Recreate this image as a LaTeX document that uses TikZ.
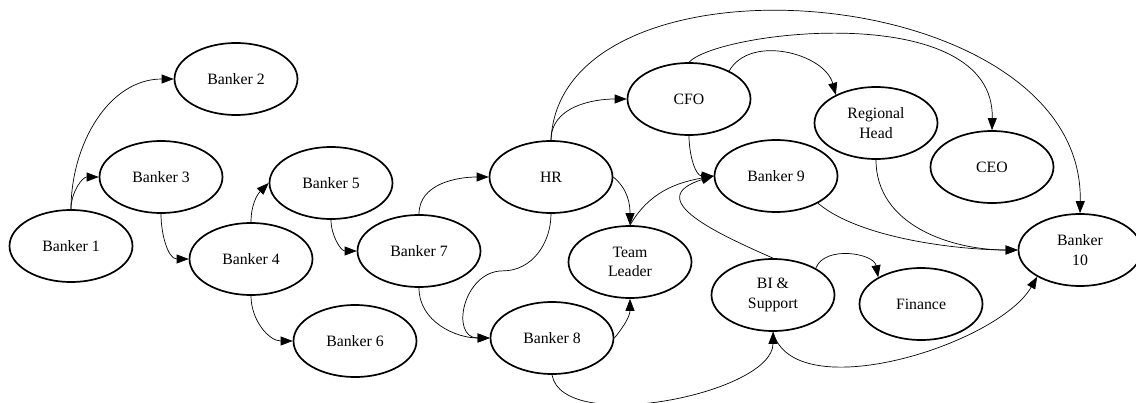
\documentclass[tikz,border=0pt]{standalone}
\usepackage{fontspec}
\setmainfont{Liberation Serif}
\usepackage{tikz}
\usetikzlibrary{
  arrows.meta,
  shapes.geometric
}

\begin{document}
\begin{tikzpicture}[x=1pt, y=1pt,
    font=\fontsize{15.8}{19.3}\selectfont,
    role/.style={ellipse, draw, line width=1.7pt, minimum width=123pt,
      minimum height=72pt, inner sep=0pt, align=center},
    link/.style={line width=0.7pt, -{Triangle[length=12pt, width=9pt]}}]
  \useasboundingbox (0,0) rectangle (1136,-402);

  % Bankers
  \node[role] (b1) at (71,-246) {Banker 1};
  \node[role] (b2) at (236,-79) {Banker 2};
  \node[role] (b3) at (161,-177) {Banker 3};
  \node[role] (b4) at (251,-259) {Banker 4};
  \node[role] (b5) at (331,-183) {Banker 5};
  \node[role] (b6) at (355,-341) {Banker 6};
  \node[role] (b7) at (419,-251) {Banker 7};
  \node[role] (b8) at (552,-338) {Banker 8};
  \node[role] (b9) at (776,-176) {Banker 9};
  \node[role] (b10) at (1080,-250) {Banker\\10};

  % Management and support
  \node[role] (hr) at (551,-177) {HR};
  \node[role] (tl) at (630,-262) {Team\\Leader};
  \node[role] (cfo) at (689,-99) {CFO};
  \node[role] (rh) at (876,-123) {Regional\\Head};
  \node[role] (ceo) at (992,-167) {CEO};
  \node[role] (bi) at (773,-295) {BI \&\\Support};
  \node[role] (fin) at (921,-304) {Finance};

  % Links between bankers
  \draw[link] (b1.north) to[out=90,in=180] (b2.west);
  \draw[link] (b1.north) to[out=90,in=180] (b3.west);
  \draw[link] (b3.south) to[out=-90,in=180] (b4.west);
  \draw[link] (b4.north) to[out=90,in=225] (b5.west);
  \draw[link] (b4.south) to[out=-90,in=180] (b6.west);
  \draw[link] (b5.south) to[out=-90,in=180] (b7.west);
  \draw[link] (b7.north) to[out=90,in=180] (hr.west);
  \draw[link] (b7.south) to[out=-90,in=180] (b8.west);

  % Links from HR
  \draw[link] (hr.south) to[out=-90,in=0] ++(-48,-57)
    to[out=180,in=180,looseness=1.5] (b8.west);
  \draw[link] (hr.north) to[out=90,in=180] (cfo.west);
  \draw[link] (hr.north) .. controls +(9,200) and +(5,234) .. (b10.north);
  \draw[link] (hr.east) to[out=-40,in=90] (tl.north);

  % Links into Banker 9 and Team Leader
  \draw[link] (tl.north) to[out=60,in=190] (b9.west);
  \draw[link] (bi.north) .. controls +(-52,23) and +(-74,-23) .. (b9.west);
  \draw[link] (cfo.south) to[out=-90,in=180] (b9.west);
  \draw[link] (b8.east) to[out=50,in=-90] (tl.south);
  \draw[link] (b8.south) to[out=-80,in=-90,looseness=0.7] (bi.south);

  % Links from CFO
  \draw[link] (cfo.35) to[out=60,in=105] (rh.145);
  \draw[link] (cfo.north) .. controls +(31,32) and +(3,131) .. (ceo.north);

  % Links into Banker 10
  \draw[link] (rh.south) to[out=-90,in=180] (b10.west);
  \draw[link] (b9.-33) to[out=-40,in=180,looseness=0.7] (b10.west);
  \draw[link] (bi.south) to[out=-75,in=-120,looseness=0.75] (b10.212);
  \draw[link] (bi.32) to[out=70,in=100] (fin.148);
\end{tikzpicture}
\end{document}
